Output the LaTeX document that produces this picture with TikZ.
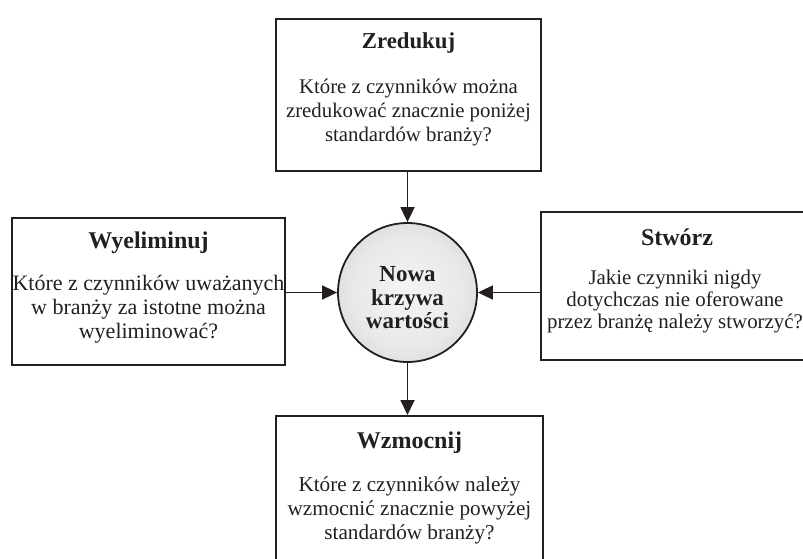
\documentclass[tikz,border=0pt]{standalone}
\usepackage{fontspec}
\setmainfont{Liberation Serif}
\usetikzlibrary{arrows.meta}
\definecolor{ink}{RGB}{35,31,32}
\pgfdeclareradialshading{ballgray}{\pgfpoint{0bp}{0bp}}{color(0bp)=(black!4); color(20bp)=(black!9); color(50bp)=(black!27)}
\begin{document}
\begin{tikzpicture}[x=1pt,y=-1pt,
  box/.style={draw=ink,line width=2pt,rectangle,inner sep=0pt},
  ttl/.style={font=\fontsize{24}{26}\selectfont\bfseries,text=ink,inner sep=0pt},
  bodytext/.style={font=\fontsize{21.2}{24}\selectfont,align=center,text=ink,inner sep=0pt},
  conn/.style={draw=ink,line width=1.8pt,-{Triangle[length=15pt,width=14pt]}}]
\useasboundingbox (0,0) rectangle (803,559);
\clip (0,0) rectangle (803,559);
% boxes
\node[box,minimum width=265pt,minimum height=152pt] (zr) at (408.5,95) {};
\node[box,minimum width=273pt,minimum height=147pt] (wy) at (148.5,291.5) {};
\node[box,minimum width=272pt,minimum height=148pt] (st) at (677,286) {};
\node[box,minimum width=267pt,minimum height=174pt] (wz) at (409.5,503) {};
% circle
\node[circle,draw=ink,line width=1.8pt,minimum size=139pt,inner sep=0pt,shading=ballgray] (nk) at (407.5,292.5) {};
\node[font=\fontsize{23}{23.5}\selectfont\bfseries,align=center,text=ink,inner sep=0pt] (nkT) at (407.5,298) {Nowa\\krzywa\\wartości};
% texts
\node[ttl,font=\fontsize{22.8}{26}\selectfont\bfseries] (zrT) at (408.5,43) {Zredukuj};
\node[bodytext,font=\fontsize{20.8}{24}\selectfont] (zrB) at (408.5,113) {Które z czynników można\\zredukować znacznie poniżej\\standardów branży?};
\node[ttl] (wyT) at (148.5,243) {Wyeliminuj};
\node[bodytext,font=\fontsize{22}{24}\selectfont] (wyB) at (148.5,309) {Które z czynników uważanych\\w branży za istotne można\\wyeliminować?};
\node[ttl] (stT) at (677,237) {Stwórz};
\node[bodytext,font=\fontsize{20.9}{21.8}\selectfont] (stB) at (675,301.5) {Jakie czynniki nigdy\\dotychczas nie oferowane\\przez branżę należy stworzyć?};
\node[ttl] (wzT) at (409.5,443) {Wzmocnij};
\node[bodytext] (wzB) at (409.5,510) {Które z czynników należy\\wzmocnić znacznie powyżej\\standardów branży?};
% connectors
\draw[conn] (nk.north |- zr.south) -- (nk.north);
\draw[conn] (wy.east |- nk.center) -- (nk.west);
\draw[conn] (st.west |- nk.center) -- (nk.east);
\draw[conn] (nk.south) -- (nk.south |- wz.north);
\end{tikzpicture}
\end{document}
